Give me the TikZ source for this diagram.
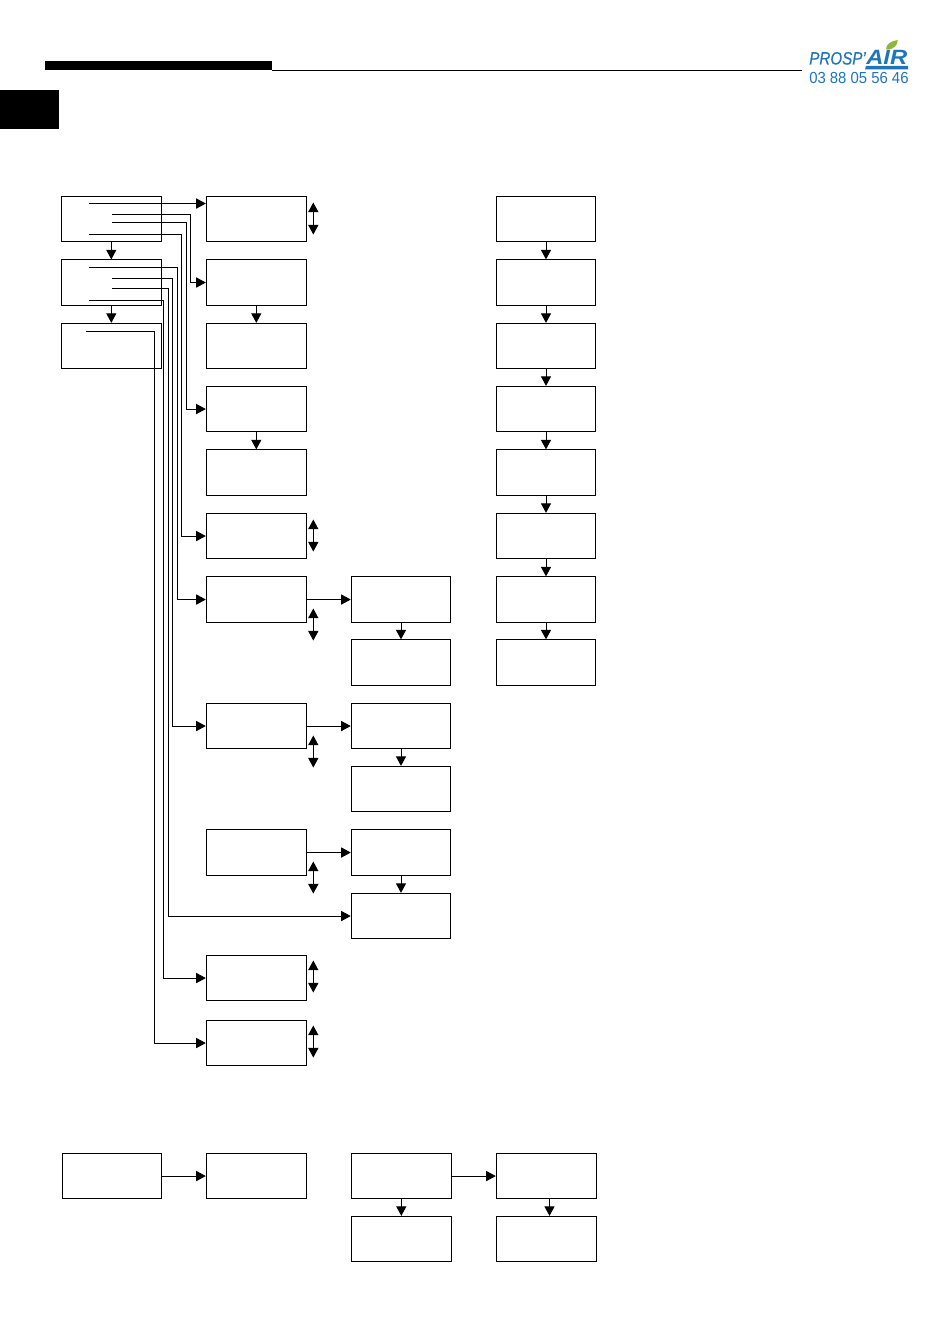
\documentclass[tikz,border=0pt]{standalone}
\usepackage{fontspec}
\setmainfont{Liberation Sans}
\newfontfamily\logofont{Liberation Sans}[ItalicFeatures={FakeBold=0.6}]
\usetikzlibrary{arrows.meta}
\definecolor{logoblue}{HTML}{1F75BC}
\definecolor{logogreen}{HTML}{8DB63C}
\tikzset{
  box/.style={draw=black,line width=0.75pt,fill=white,inner sep=0pt,minimum width=75pt,minimum height=34pt},
  narrowbox/.style={box,minimum width=74.6pt},
  tip/.style={-{Triangle[length=7.2pt,width=7.6pt]}},
  conn/.style={tip,draw=black,line width=0.75pt},
  updown/.style={{Triangle[length=7.2pt,width=7.6pt]}-{Triangle[length=7.2pt,width=7.6pt]},draw=black,line width=0.75pt},
  logotext/.style={inner sep=0pt,text=logoblue,anchor=base west},
}
\begin{document}
\begin{tikzpicture}[x=0.75pt,y=-0.75pt]
\useasboundingbox (0,0) rectangle (950,1344);
% header
\fill[black] (45,61) rectangle (272,70);
\draw[black,line width=0.75pt] (272,70.5) -- (802,70.5);
\fill[black] (0,90) rectangle (59,129);
% logo
\node[logotext] (logoa) at (809,64.5) {\fontsize{13.4pt}{13.4pt}\selectfont\scalebox{0.85}[1]{\logofont\itshape PROSP’}};
\node[logotext] (logob) at (866,65) {\fontsize{15.5pt}{15.5pt}\selectfont\scalebox{1.15}[1]{\bfseries\itshape AIR}};
\fill[logoblue] (866,66) -- (908,66) -- (908,69.3) -- (865,69.3) -- cycle;
\fill[logogreen] (886,49.5) .. controls (886,44) and (891,41) .. (897.7,40) .. controls (897.7,45) and (894,50) .. (886,49.5) -- cycle;
\node[logotext] (phone) at (809,83.2) {\fontsize{12pt}{12pt}\selectfont\scalebox{0.93}[1]{03 88 05 56 46}};
\begin{scope}[yshift=-0.4pt]
% column A
\node[box] (a1) at (111.3,218.5) {};
\node[box] (a2) at (111.3,282) {};
\node[box] (a3) at (111.3,345.5) {};
% column B
\node[box] (b1) at (256.3,218.5) {};
\node[box] (b2) at (256.3,282) {};
\node[box] (b3) at (256.3,345.5) {};
\node[box] (b4) at (256.3,408.5) {};
\node[box] (b5) at (256.3,472) {};
\node[box] (b6) at (256.3,535.5) {};
\node[box] (b7) at (256.3,599) {};
\node[box] (b8) at (256.3,725.5) {};
\node[box] (b9) at (256.3,852) {};
\node[box] (b10) at (256.3,977.5) {};
\node[box] (b11) at (256.3,1042.5) {};
% column C
\node[narrowbox] (c1) at (401,599) {};
\node[narrowbox] (c2) at (401,662) {};
\node[narrowbox] (c3) at (401,725.5) {};
\node[narrowbox] (c4) at (401,788.5) {};
\node[narrowbox] (c5) at (401,852) {};
\node[narrowbox] (c6) at (401,915.5) {};
% column D
\node[narrowbox] (d1) at (546,218.5) {};
\node[narrowbox] (d2) at (546,282) {};
\node[narrowbox] (d3) at (546,345.5) {};
\node[narrowbox] (d4) at (546,408.5) {};
\node[narrowbox] (d5) at (546,472) {};
\node[narrowbox] (d6) at (546,535.5) {};
\node[narrowbox] (d7) at (546,599) {};
\node[narrowbox] (d8) at (546,662) {};
% bottom row
\node[box,minimum width=74.25pt] (e1) at (111.8,1175.5) {};
\node[box] (e2) at (256.3,1175.5) {};
\node[box] (e3) at (401.3,1175.5) {};
\node[box] (e4) at (546.3,1175.5) {};
\node[box] (e5) at (401.3,1238.5) {};
\node[box] (e6) at (546.3,1238.5) {};
% sources and rails
\coordinate (s1) at (89,203);
\coordinate (s2) at (112,213.7);
\coordinate (s3) at (112,222.3);
\coordinate (s4) at (89,234);
\coordinate (s5) at (89,267);
\coordinate (s6) at (112,277.7);
\coordinate (s7) at (112,287.7);
\coordinate (s8) at (89,300);
\coordinate (s9) at (86,331.3);
\coordinate (r2) at (190.5,213.7);
\coordinate (r3) at (186,222.3);
\coordinate (r4) at (181.7,234);
\coordinate (r5) at (177.3,267);
\coordinate (r6) at (172.7,277.7);
\coordinate (r7) at (168.3,287.7);
\coordinate (r8) at (163.7,300);
\coordinate (r9) at (154.7,331.3);
\draw[conn] (s1) -- (s1 -| b1.west);
\draw[conn] (s2) -- (r2) |- (b2.west);
\draw[conn] (s3) -- (r3) |- (b4.west);
\draw[conn] (s4) -- (r4) |- (b6.west);
\draw[conn] (s5) -- (r5) |- (b7.west);
\draw[conn] (s6) -- (r6) |- (b8.west);
\draw[conn] (s7) -- (r7) |- (c6.west);
\draw[conn] (s8) -- (r8) |- (b10.west);
\draw[conn] (s9) -- (r9) |- (b11.west);
% vertical chains
\draw[conn] (a1) -- (a2);
\draw[conn] (a2) -- (a3);
\draw[conn] (b2) -- (b3);
\draw[conn] (b4) -- (b5);
\draw[conn] (c1) -- (c2);
\draw[conn] (c3) -- (c4);
\draw[conn] (c5) -- (c6);
\draw[conn] (d1) -- (d2);
\draw[conn] (d2) -- (d3);
\draw[conn] (d3) -- (d4);
\draw[conn] (d4) -- (d5);
\draw[conn] (d5) -- (d6);
\draw[conn] (d6) -- (d7);
\draw[conn] (d7) -- (d8);
\draw[conn] (e3) -- (e5);
\draw[conn] ([xshift=2.4pt]e4.south) -- ([xshift=2.4pt]e6.north);
% horizontal
\draw[conn] (b7) -- (c1);
\draw[conn] (b8) -- (c3);
\draw[conn] (b9) -- (c5);
\draw[conn] (e1) -- (e2);
\draw[conn] (e3) -- (e4);
% double arrows
\coordinate (u1a) at (313.3,202); \coordinate (u1b) at (313.3,234);
\coordinate (u2a) at (313.3,519); \coordinate (u2b) at (313.3,551);
\coordinate (u3a) at (313.3,608); \coordinate (u3b) at (313.3,640);
\coordinate (u4a) at (313.3,735); \coordinate (u4b) at (313.3,767);
\coordinate (u5a) at (313.3,861); \coordinate (u5b) at (313.3,893);
\coordinate (u6a) at (313.3,960); \coordinate (u6b) at (313.3,992);
\coordinate (u7a) at (313.3,1025); \coordinate (u7b) at (313.3,1057);
\draw[updown] (u1a) -- (u1b);
\draw[updown] (u2a) -- (u2b);
\draw[updown] (u3a) -- (u3b);
\draw[updown] (u4a) -- (u4b);
\draw[updown] (u5a) -- (u5b);
\draw[updown] (u6a) -- (u6b);
\draw[updown] (u7a) -- (u7b);
\end{scope}
\end{tikzpicture}
\end{document}
